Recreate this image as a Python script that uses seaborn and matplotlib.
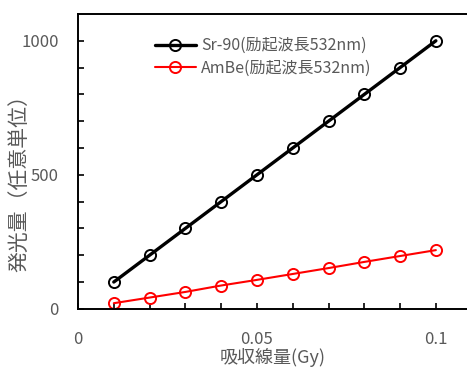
import numpy as np
import pandas as pd
import matplotlib
matplotlib.use("Agg")
import matplotlib.pyplot as plt
import seaborn as sns

# data
dose = [0.01, 0.02, 0.03, 0.04, 0.05, 0.06, 0.07, 0.08, 0.09, 0.10]
sr90 = [100, 200, 300, 400, 500, 600, 700, 800, 900, 1000]
ambe = [21, 42, 63, 87, 108, 130, 152, 175, 197, 219]
series_names = ["Sr-90(励起波長532nm)", "AmBe(励起波長532nm)"]
series_colors = ["black", "red"]
x_ticklabels = ["0", "0.05", "0.1"]
y_ticklabels = ["0", "500", "1000"]

sns.set_style("ticks")
plt.rcParams["font.family"] = ["Noto Sans CJK JP", "DejaVu Sans"]

df = pd.DataFrame({
    "dose": dose * 2,
    "signal": sr90 + ambe,
    "series": [series_names[0]] * len(dose) + [series_names[1]] * len(dose),
})

gray = "#595959"
fig = plt.figure(figsize=(4.67, 3.78), dpi=100)
ax = fig.add_axes([0.167, 0.183, 0.833, 0.78])

for name, color, lw in zip(series_names, series_colors, [2.4, 1.5]):
    sub = df[df["series"] == name]
    sns.lineplot(data=sub, x="dose", y="signal", ax=ax, color=color, lw=lw,
                 marker="o", markersize=8, markerfacecolor="none",
                 markeredgecolor=color, markeredgewidth=1.4, label=name)

ax.set_xlim(0, 0.1087)
ax.set_ylim(0, 1100)
ax.set_xticks(np.arange(0, 0.101, 0.01))
ax.set_xticklabels([x_ticklabels[0], "", "", "", "", x_ticklabels[1], "", "", "", "", x_ticklabels[2]])
ax.set_yticks(np.arange(0, 1001, 100))
ax.set_yticklabels([y_ticklabels[0], "", "", "", "", y_ticklabels[1], "", "", "", "", y_ticklabels[2]])
ax.tick_params(axis="both", direction="in", length=4, width=1.2, colors="black",
               labelcolor=gray, labelsize=12)
ax.tick_params(axis="x", pad=16)
ax.tick_params(axis="y", pad=14)

ax.spines["right"].set_visible(False)
for s in ["left", "bottom", "top"]:
    ax.spines[s].set_linewidth(1.4)
    ax.spines[s].set_color("black")

ax.set_xlabel("吸収線量(Gy)", color=gray, fontsize=13, labelpad=0)
ax.set_ylabel("発光量（任意単位）", color=gray, fontsize=15)
ax.yaxis.set_label_coords(-0.122, 0.445)

leg = ax.legend(loc="upper left", bbox_to_anchor=(0.16, 0.97), frameon=False,
                handlelength=2.6, labelspacing=0.35, fontsize=11.5, handletextpad=0.3)
for t in leg.get_texts():
    t.set_color(gray)

fig.savefig("out.png", dpi=100)
